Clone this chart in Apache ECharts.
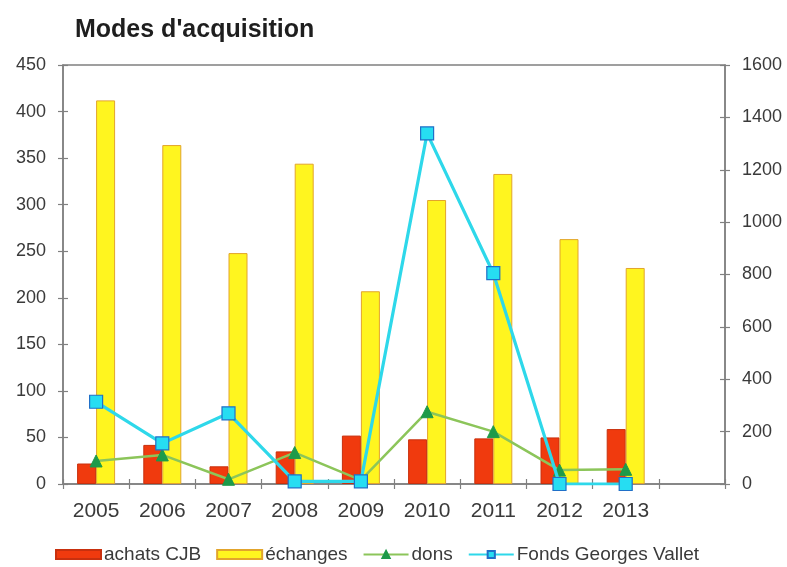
<!DOCTYPE html>
<html>
<head>
<meta charset="utf-8">
<script src="https://cdn.jsdelivr.net/npm/echarts@6/dist/echarts.min.js"></script>
<style>
  html, body { margin: 0; padding: 0; background: #fff; }
  #chart { width: 787px; height: 567px; }
</style>
</head>
<body>
<div id="chart"></div>
<script>
// Acquisitions per year (the last slot on the category axis is left empty)
const years = ['2005', '2006', '2007', '2008', '2009', '2010', '2011', '2012', '2013', ''];
const achatsCJB = [22, 42, 19, 35, 52, 48, 49, 50, 59];
const echanges = [412, 364, 248, 344, 207, 305, 333, 263, 232];
const dons = [88, 111, 18, 120, 15, 276, 200, 53, 56];
const fondsGeorgesVallet = [314, 155, 270, 10, 10, 1339, 805, 0, 0];

const leftTicks = { min: 0, max: 450, interval: 50 };
const rightTicks = { min: 0, max: 1600, interval: 200 };

const FONT = '"Liberation Sans", Arial, sans-serif';
const AXIS_GREY = '#808080';

const chart = echarts.init(document.getElementById('chart'), null, { renderer: 'canvas' });

// Value axis; the "inside" copy only adds the inner half of the cross ticks
function valueAxis(ticks, position, inside) {
  return {
    type: 'value',
    position: position,
    min: ticks.min,
    max: ticks.max,
    interval: ticks.interval,
    splitLine: { show: false },
    axisLine: { show: !inside, lineStyle: { color: AXIS_GREY, width: 1.5 } },
    axisTick: { show: true, inside: inside, length: 5, lineStyle: { color: AXIS_GREY, width: 1.2 } },
    axisLabel: {
      show: !inside,
      color: '#3a3a3a',
      fontFamily: FONT,
      fontSize: 18,
      margin: 17,
      formatter: function (v) { return String(v); }
    }
  };
}

function categoryAxis(inside) {
  return {
    type: 'category',
    position: 'bottom',
    data: years,
    boundaryGap: true,
    axisLine: { show: !inside, lineStyle: { color: AXIS_GREY, width: 1.5 } },
    axisTick: { show: true, inside: inside, length: 5, alignWithLabel: false,
                lineStyle: { color: AXIS_GREY, width: 1.2 } },
    axisLabel: {
      show: !inside,
      color: '#3a3a3a',
      fontFamily: FONT,
      fontSize: 21,
      margin: 17
    },
    splitLine: { show: false }
  };
}

chart.setOption({
  animation: false,
  backgroundColor: '#ffffff',
  title: {
    text: "Modes d'acquisition",
    left: 70,
    top: 13,
    textStyle: { fontFamily: FONT, fontSize: 25, fontWeight: 'bold', color: '#1e1e1e' }
  },
  grid: {
    left: 63, right: 62, top: 65, bottom: 83,
    show: true,
    borderColor: AXIS_GREY,
    borderWidth: 1.5,
    backgroundColor: 'transparent'
  },
  legend: {
    left: 50,
    top: 540,
    itemWidth: 45,
    itemHeight: 9,
    itemGap: 15,
    textStyle: { fontFamily: FONT, fontSize: 19, color: '#3a3a3a', padding: [0, 0, 0, -2] },
    data: [
      { name: 'achats CJB', icon: 'rect' },
      { name: 'échanges', icon: 'rect' },
      { name: 'dons' },
      { name: 'Fonds Georges Vallet' }
    ]
  },
  xAxis: [categoryAxis(false), categoryAxis(true)],
  yAxis: [
    valueAxis(leftTicks, 'left', false),
    valueAxis(rightTicks, 'right', false),
    valueAxis(leftTicks, 'left', true),
    valueAxis(rightTicks, 'right', true)
  ],
  series: [
    {
      name: 'achats CJB',
      type: 'bar',
      data: achatsCJB,
      barWidth: 19,
      barGap: '0%',
      itemStyle: { color: '#F03A0E', borderColor: '#C8300E', borderWidth: 1 },
      z: 2
    },
    {
      name: 'échanges',
      type: 'bar',
      data: echanges,
      barWidth: 19,
      barGap: '0%',
      itemStyle: { color: '#FFF51F', borderColor: '#E2A42C', borderWidth: 1 },
      z: 2
    },
    {
      name: 'dons',
      type: 'line',
      yAxisIndex: 1,
      data: dons,
      symbol: 'triangle',
      symbolSize: 12,
      lineStyle: { color: '#8CC55A', width: 2.5 },
      itemStyle: { color: '#1E9A4A', borderColor: '#1E9A4A', borderWidth: 1 },
      z: 4
    },
    {
      name: 'Fonds Georges Vallet',
      type: 'line',
      yAxisIndex: 1,
      data: fondsGeorgesVallet,
      symbol: 'rect',
      symbolSize: 13,
      lineStyle: { color: '#2ED8EA', width: 3.2 },
      itemStyle: { color: '#26DDF2', borderColor: '#2070C8', borderWidth: 1.2 },
      z: 5
    }
  ]
});
</script>
</body>
</html>
